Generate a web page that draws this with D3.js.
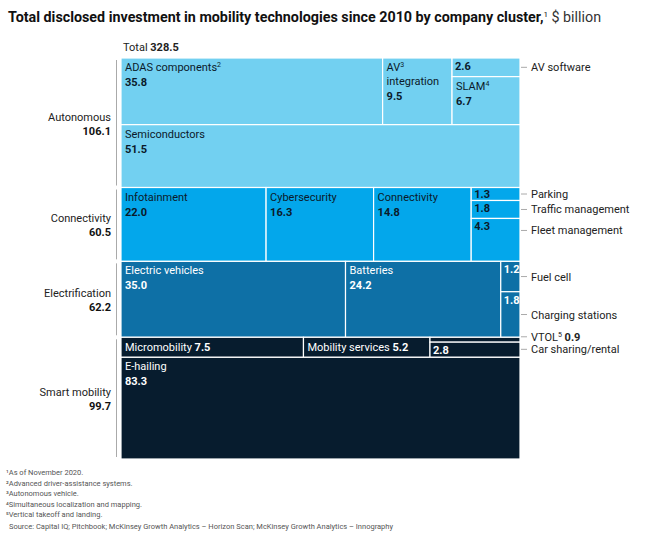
<!DOCTYPE html>
<html><head><meta charset="utf-8">
<script src="https://cdn.jsdelivr.net/npm/d3@7"></script>
<style>body{margin:0;background:#fff}text{font-family:Roboto,"Noto Sans",sans-serif}</style>
</head><body><svg id="c" width="649" height="549"></svg>
<script>
// ---- data ----
const clusters = ["Autonomous","Connectivity","Electrification","Smart mobility"];
const clusterValues = [106.1, 60.5, 62.2, 99.7];
const clusterColors = ["#72d0f1","#03a7eb","#0e70a6","#071c2e"];
const textColors = ["#0b1a2a","#0b1a2a","#ffffff","#ffffff"];
// segment names/values per cluster; layout groups refer to indices
const autonomousNames = ["ADAS components","AV integration","AV software","SLAM","Semiconductors"];
const autonomousValues = [35.8, 9.5, 2.6, 6.7, 51.5];
const connectivityNames = ["Infotainment","Cybersecurity","Connectivity","Parking","Traffic management","Fleet management"];
const connectivityValues = [22.0, 16.3, 14.8, 1.3, 1.8, 4.3];
const electrificationNames = ["Electric vehicles","Batteries","Fuel cell","Charging stations"];
const electrificationValues = [35.0, 24.2, 1.2, 1.8];
const smartNames = ["Micromobility","Mobility services","VTOL","Car sharing/rental","E-hailing"];
const smartValues = [7.5, 5.2, 0.9, 2.8, 83.3];
const total = 328.5;
const footnotes = ["¹As of November 2020.","²Advanced driver-assistance systems.","³Autonomous vehicle.","⁴Simultaneous localization and mapping.","⁵Vertical takeoff and landing."];
const source = "Source: Capital IQ; Pitchbook; McKinsey Growth Analytics – Horizon Scan; McKinsey Growth Analytics – Innography";

// structure: nested split (dir "v" = stack vertically, "h" = side by side), leaves = indices
const structures = [
  {d:"v", c:[{d:"h", c:[0,1,{d:"v",c:[2,3]}]}, 4]},
  {d:"h", c:[0,1,2,{d:"v",c:[3,4,5]}]},
  {d:"h", c:[0,1,{d:"v",c:[2,3]}]},
  {d:"v", c:[{d:"h", c:[0,1,{d:"v",c:[2,3]}]}, 4]}
];
const segValues = [autonomousValues, connectivityValues, electrificationValues, smartValues];
const segNames = [autonomousNames, connectivityNames, electrificationNames, smartNames];
// label style per leaf: "in" = inside block, "inline", "num" = number only (right label outside), "none"
const labelMode = [
  ["block","block","num","block","block"],
  ["block","block","block","num","num","num"],
  ["block","block","num","num"],
  ["inline","inline","out","num","block"]
];
const sup = [
  {0:"2",1:"3",3:"4"},{},{},{2:"5"}
];

const svg = d3.select("#c");
const X0=121, X1=520, Y0=58, Y1=459;
const y = d3.scaleLinear().domain([0,total]).range([Y0,Y1]);

svg.append("text").attr("x",8).attr("y",22).attr("font-size",14.3).attr("fill","#111")
 .html('<tspan font-weight="700">Total disclosed investment in mobility technologies since 2010 by company cluster,</tspan><tspan font-size="8" dy="-5">1</tspan><tspan dy="5" font-weight="400" fill="#333"> $ billion</tspan>');
svg.append("text").attr("x",123).attr("y",51).attr("font-size",11).attr("fill","#222")
 .html('Total <tspan font-weight="700">'+total.toFixed(1)+'</tspan>');

function sumNode(n,vals){return typeof n==="number"?vals[n]:d3.sum(n.c,k=>sumNode(k,vals));}
function layout(n,vals,x0,y0,x1,y1,out){
  if(typeof n==="number"){out.push({i:n,x0,y0,x1,y1});return;}
  const s = sumNode(n,vals); let acc=0;
  const sc = d3.scaleLinear().domain([0,s]).range(n.d==="h"?[x0,x1]:[y0,y1]);
  n.c.forEach(k=>{const v=sumNode(k,vals);
    if(n.d==="h") layout(k,vals,sc(acc),y0,sc(acc+v),y1,out);
    else layout(k,vals,x0,sc(acc),x1,sc(acc+v),out);
    acc+=v;});
}
let cum=0;
clusters.forEach((cl,ci)=>{
  const cy0=y(cum), cy1=y(cum+clusterValues[ci]); cum+=clusterValues[ci];
  const leaves=[]; layout(structures[ci],segValues[ci],X0,cy0,X1,cy1,leaves);
  const g=svg.append("g");
  // left label
  svg.append("line").attr("x1",116.5).attr("x2",116.5).attr("y1",cy0+2).attr("y2",cy1-2).attr("stroke","#aaa").attr("stroke-width",1);
  const my=(cy0+cy1)/2;
  svg.append("text").attr("x",111).attr("y",my-2).attr("text-anchor","end").attr("font-size",11).attr("fill","#222").text(cl);
  svg.append("text").attr("x",111).attr("y",my+12).attr("text-anchor","end").attr("font-size",11).attr("font-weight",700).attr("fill","#111").text(clusterValues[ci].toFixed(1));
  leaves.forEach(l=>{
    const name=segNames[ci][l.i], v=segValues[ci][l.i], mode=labelMode[ci][l.i], sp=sup[ci][l.i];
    g.append("rect").attr("x",l.x0).attr("y",l.y0).attr("width",l.x1-l.x0).attr("height",l.y1-l.y0)
      .attr("fill",clusterColors[ci]).attr("stroke","#fff").attr("stroke-width",1.2);
    const tc=textColors[ci];
    const nm = sp? name+'<tspan font-size="7" dy="-4">'+sp+'</tspan><tspan dy="4"></tspan>' : name;
    if(mode==="block"){
      if(name==="AV integration"){
        g.append("text").attr("x",l.x0+4).attr("y",l.y0+13).attr("font-size",11).attr("fill",tc).html('AV<tspan font-size="7" dy="-4">3</tspan>');
        g.append("text").attr("x",l.x0+4).attr("y",l.y0+27).attr("font-size",11).attr("fill",tc).text("integration");
        g.append("text").attr("x",l.x0+4).attr("y",l.y0+42).attr("font-size",11).attr("font-weight",700).attr("fill",tc).text(v.toFixed(1));
      } else {
        g.append("text").attr("x",l.x0+4).attr("y",l.y0+13).attr("font-size",11).attr("fill",tc).html(nm);
        g.append("text").attr("x",l.x0+4).attr("y",l.y0+28).attr("font-size",11).attr("font-weight",700).attr("fill",tc).text(v.toFixed(1));
      }
    } else if(mode==="inline"){
      g.append("text").attr("x",l.x0+4).attr("y",l.y0+14).attr("font-size",11).attr("fill",tc)
        .html(name+' <tspan font-weight="700">'+v.toFixed(1)+'</tspan>');
    } else {
      if(mode==="num") g.append("text").attr("x",l.x0+3).attr("y",Math.min(l.y0+12,l.y1-2)+ (l.y1-l.y0>25? 0:0)).attr("font-size",11).attr("font-weight",700).attr("fill",tc).text(v.toFixed(1));
      // right label
      let ly=(l.y0+l.y1)/2;
      if(name==="Fleet management") ly=l.y0+12;
      if(name==="VTOL") ly=l.y0-0.5;
      if(name==="Car sharing/rental") ly=l.y1-8;
      if(name==="AV software") ly=(l.y0+l.y1)/2;
      svg.append("line").attr("x1",X1+1).attr("x2",X1+7).attr("y1",ly).attr("y2",ly).attr("stroke","#aaa");
      const t=svg.append("text").attr("x",X1+11).attr("y",ly+4).attr("font-size",11).attr("fill","#222");
      if(name==="VTOL") t.html('VTOL<tspan font-size="7" dy="-4">5</tspan><tspan dy="4" font-weight="700"> '+v.toFixed(1)+'</tspan>');
      else t.text(name);
    }
  });
});
// fix numbers inside small stacked cells near top
const fy=475;
footnotes.forEach((f,i)=>svg.append("text").attr("x",6).attr("y",fy+i*10.5).attr("font-size",7.5).attr("fill","#555").text(f));
svg.append("text").attr("x",9).attr("y",fy+5*10.5+1).attr("font-size",7.5).attr("fill","#555").text(source);
</script></body></html>
